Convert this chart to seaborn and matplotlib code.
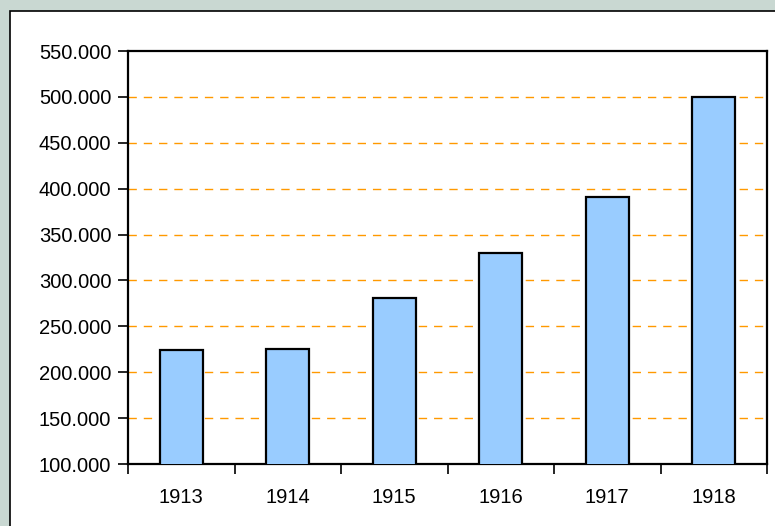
import numpy as np
import pandas as pd
import matplotlib.pyplot as plt
import seaborn as sns
from matplotlib.patches import Rectangle
from matplotlib.ticker import FuncFormatter

# data
years = ['1913', '1914', '1915', '1916', '1917', '1918']
values = [224000, 225000, 281000, 330000, 391000, 500000]
y_ticks = [100000, 150000, 200000, 250000, 300000, 350000, 400000, 450000, 500000, 550000]

df = pd.DataFrame({'year': years, 'value': values})

sns.set_theme(style="white")
plt.rcParams['font.family'] = ['Liberation Sans', 'DejaVu Sans']

fig = plt.figure(figsize=(7.75, 5.26), dpi=100)
fig.patch.set_facecolor('#c9d8d2')

# white chart panel with black border
panel = Rectangle((10 / 775, -0.05), 1.0, 1 - 11 / 526 + 0.05, transform=fig.transFigure,
                  facecolor='white', edgecolor='black', linewidth=1.2, zorder=-5)
fig.patches.append(panel)

ax = fig.add_axes([128 / 775, 1 - 464 / 526, (767 - 128) / 775, (464 - 51) / 526])
ax.set_zorder(2)
ax.set_facecolor('white')

sns.barplot(data=df, x='year', y='value', ax=ax, color='#99ccff', width=0.4,
            edgecolor='black', linewidth=1.6, saturation=1, zorder=3)

ax.set_ylim(100000, 550000)
ax.set_xlim(-0.5, 5.5)
ax.set_yticks(y_ticks)
ax.yaxis.set_major_formatter(FuncFormatter(lambda v, p: f"{int(v):,}".replace(',', '.')))

# grid lines (dashed orange)
for v in y_ticks[1:-1]:
    ax.axhline(v, color='#ff9900', linewidth=1.0, linestyle=(0, (6, 5)), zorder=1)

# category labels centered, ticks on category boundaries
ax.set_xticks(range(len(years)))
ax.set_xticklabels(years)
ax.set_xticks(np.arange(-0.5, len(years), 1.0), minor=True)
ax.tick_params(axis='x', which='major', length=0, pad=17, labelsize=14.5, colors='black')
ax.tick_params(axis='x', which='minor', length=7, width=1.2, direction='out', bottom=True, color='black')
ax.tick_params(axis='y', which='major', length=7, width=1.2, direction='out', left=True,
               pad=5, labelsize=14.5, colors='black')

for s in ax.spines.values():
    s.set_color('black')
    s.set_linewidth(1.6)

ax.set_xlabel('')
ax.set_ylabel('')

fig.savefig('out.png', dpi=100, facecolor=fig.get_facecolor())
